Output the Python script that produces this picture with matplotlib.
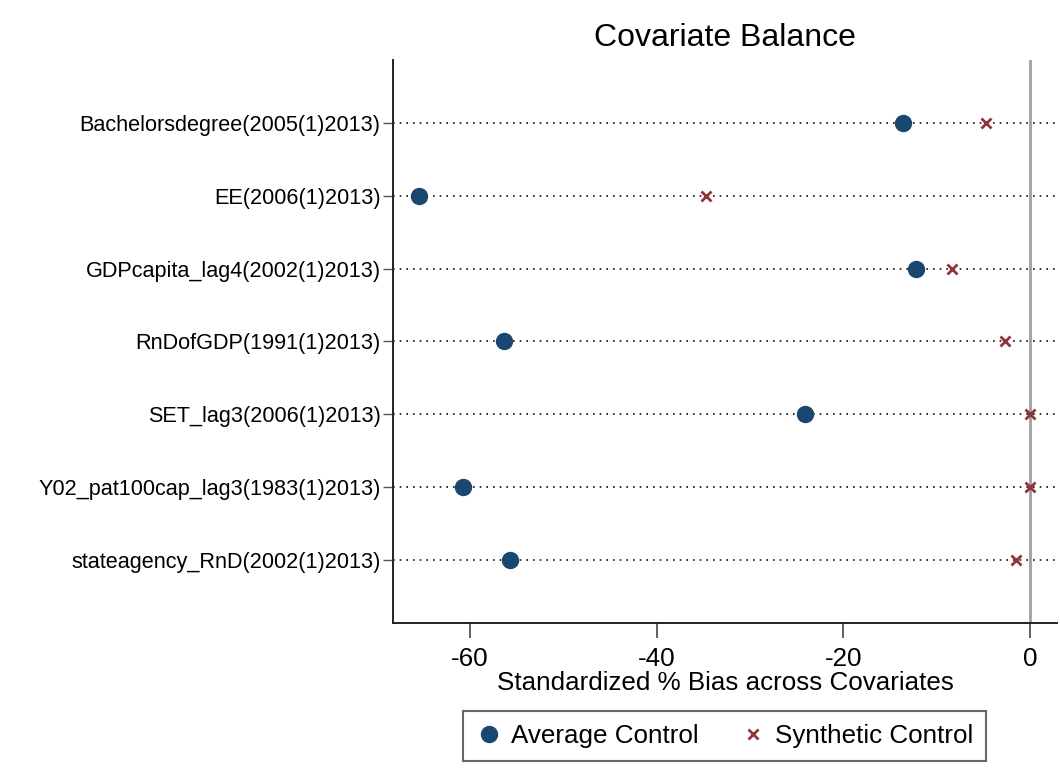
import numpy as np
import matplotlib
matplotlib.use('Agg')
import matplotlib.pyplot as plt

plt.rcParams['font.family'] = ['Liberation Sans', 'DejaVu Sans']

covariates = ['Bachelorsdegree(2005(1)2013)', 'EE(2006(1)2013)',
              'GDPcapita_lag4(2002(1)2013)', 'RnDofGDP(1991(1)2013)',
              'SET_lag3(2006(1)2013)', 'Y02_pat100cap_lag3(1983(1)2013)',
              'stateagency_RnD(2002(1)2013)']
avg_control = [-13.6, -65.5, -12.2, -56.4, -24.1, -60.8, -55.7]
synth_control = [-4.7, -34.7, -8.4, -2.7, 0.0, 0.0, -1.5]
xticks = [-60, -40, -20, 0]

navy = '#1a476f'
maroon = '#90353b'

fig = plt.figure(figsize=(10.6, 7.72), dpi=100)
ax = fig.add_axes([0.3708, 0.193, 0.6264, 0.7293])

ypos = np.arange(1, len(covariates) + 1)

# dotted row lines
for y in ypos:
    ax.axhline(y, color='#111111', linestyle=(0, (1, 3)), linewidth=1.2, zorder=1)
ax.axvline(0, color='#a0a0a0', linewidth=2, zorder=1)

ax.plot(avg_control, ypos, 'o', color=navy, markersize=11.5, linestyle='none',
        zorder=3, label='Average Control')
ax.plot(synth_control, ypos, 'x', color=maroon, markersize=7, markeredgewidth=2,
        linestyle='none', zorder=3, label='Synthetic Control')

ax.set_xlim(-68.25, 2.9)
ax.set_ylim(7.86, 0.14)
ax.set_yticks(ypos)
ax.set_yticklabels(covariates, fontsize=15.6)
ax.set_xticks(xticks)
ax.set_xticklabels([str(t) for t in xticks], fontsize=18.7)
ax.tick_params(axis='y', length=7, width=1, color='#555555', pad=2)
ax.tick_params(axis='x', length=11, width=1.3, color='#555555', pad=6)

for s in ['top', 'right']:
    ax.spines[s].set_visible(False)
ax.spines['left'].set_linewidth(1.4)
ax.spines['bottom'].set_linewidth(1.4)
ax.spines['left'].set_color('#222222')
ax.spines['bottom'].set_color('#222222')

ax.set_xlabel('Standardized % Bias across Covariates', fontsize=18.7, labelpad=0)
fig.text(725 / 1060, 1 - 38 / 772, 'Covariate Balance', fontsize=23,
         ha='center', va='center')

leg = fig.legend(loc='center', bbox_to_anchor=(724.5 / 1060, 1 - 736 / 772),
                 ncol=2, fontsize=18.7, frameon=True, fancybox=False,
                 edgecolor='#444444', handletextpad=0.35, columnspacing=1.6,
                 borderpad=0.5, handlelength=1.0)
leg.get_frame().set_linewidth(1.5)

fig.savefig('out.png', dpi=100, facecolor='white')
